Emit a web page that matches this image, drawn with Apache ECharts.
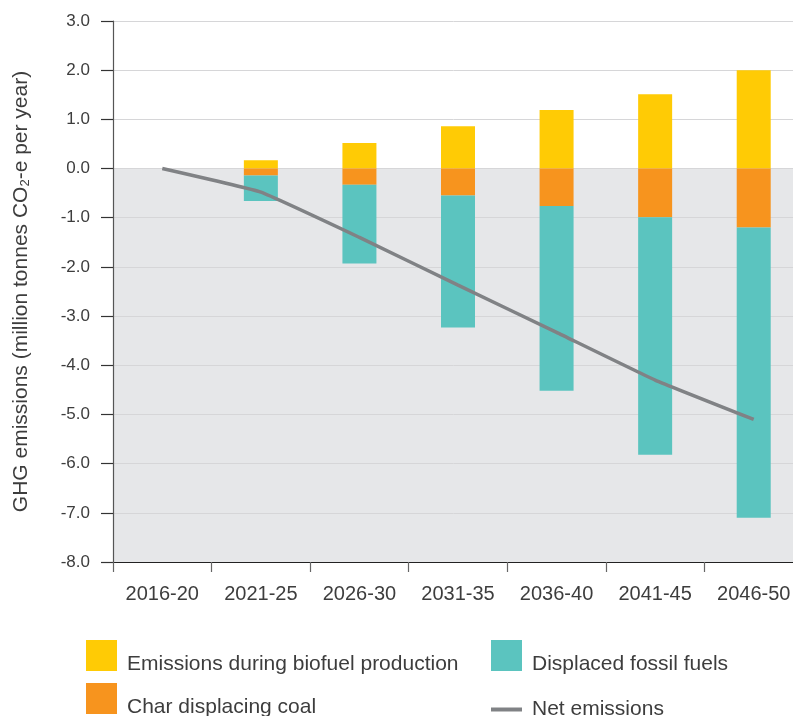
<!DOCTYPE html>
<html><head><meta charset="utf-8">
<script src="https://cdn.jsdelivr.net/npm/echarts@6/dist/echarts.min.js"></script>
<style>html,body{margin:0;padding:0;background:#fff}#c{width:793px;height:716px}</style>
</head><body><div id="c"></div>
<script>
const categories = ['2016-20','2021-25','2026-30','2031-35','2036-40','2041-45','2046-50'];
const biofuelEmissions = [0, 0.17, 0.52, 0.86, 1.19, 1.51, 2.0];
const charDisplacingCoal = [0, -0.14, -0.33, -0.55, -0.76, -0.99, -1.2];
const displacedFossilFuels = [0, -0.52, -1.6, -2.68, -3.76, -4.83, -5.9];
const netEmissions = [0, -0.48, -1.4, -2.37, -3.33, -4.3, -5.1];
const yTicks = {min: -8, max: 3, interval: 1};

const FONT = 'Liberation Sans';
const TXT = '#3d3d3d';
const bandColors = [];
for (let v = yTicks.min; v < yTicks.max; v += yTicks.interval) bandColors.push(v < 0 ? '#e6e7e9' : '#ffffff');

const legendText = {color: TXT, fontSize: 21, fontFamily: FONT, padding: [0, 0, 0, 5]};
// square swatch in the top 31px of a 48px-tall icon box, so the label sits lower as in the original
const squareIcon = 'path://M0,0L31,0L31,31L0,31Z M0,48L0,48';
function mkLegend(name, left, top, opts) {
  return Object.assign({left: left, top: top, orient: 'vertical', padding: 0,
    itemWidth: 31, itemHeight: 48, icon: squareIcon, data: [name], textStyle: legendText, selectedMode: false}, opts || {});
}

const chart = echarts.init(document.getElementById('c'));
chart.setOption({
  animation: false,
  textStyle: {fontFamily: FONT},
  grid: {left: 113, top: 21, width: 690, bottom: 154, containLabel: false, outerBoundsMode: 'none'},
  xAxis: {
    type: 'category', data: categories, boundaryGap: true,
    axisLine: {onZero: false, lineStyle: {color: '#222', width: 1.2}},
    axisTick: {show: true, length: 10, lineStyle: {color: '#666', width: 1.2}},
    axisLabel: {color: TXT, fontSize: 20, margin: 22, fontFamily: FONT}
  },
  yAxis: {
    type: 'value', min: yTicks.min, max: yTicks.max, interval: yTicks.interval,
    name: 'GHG emissions (million tonnes CO{sub|2}-e per year)',
    nameLocation: 'middle', nameGap: 81, nameRotate: 90,
    nameTextStyle: {color: TXT, fontSize: 21, fontFamily: FONT,
      rich: {sub: {fontSize: 13, color: TXT, fontFamily: FONT, verticalAlign: 'bottom', padding: [9,0,0,0]}}},
    axisLine: {show: true, lineStyle: {color: '#555', width: 1.2}},
    axisTick: {show: true, length: 12, lineStyle: {color: '#333', width: 1.2}},
    axisLabel: {color: TXT, fontSize: 17, margin: 23, fontFamily: FONT, formatter: v => v.toFixed(1)},
    splitLine: {show: true, lineStyle: {color: '#d6d6d8', width: 1}},
    splitArea: {show: true, areaStyle: {color: bandColors}}
  },
  legend: [
    mkLegend('Emissions during biofuel production', 86, 640),
    mkLegend('Char displacing coal', 86, 683),
    mkLegend('Displaced fossil fuels', 491, 640),
    mkLegend('Net emissions', 491, 699, {itemHeight: 4, icon: 'rect'})
  ],
  series: [
    {name: 'Emissions during biofuel production', type: 'bar', stack: 's', barWidth: 34,
     data: biofuelEmissions, itemStyle: {color: '#ffcb05'}},
    {name: 'Char displacing coal', type: 'bar', stack: 's', barWidth: 34,
     data: charDisplacingCoal, itemStyle: {color: '#f7941e'}},
    {name: 'Displaced fossil fuels', type: 'bar', stack: 's', barWidth: 34,
     data: displacedFossilFuels, itemStyle: {color: '#5bc4bf'}},
    {name: 'Net emissions', type: 'line', data: netEmissions, symbol: 'none', showSymbol: false,
     smooth: 0.1, z: 5, lineStyle: {color: '#808285', width: 3.5}, itemStyle: {color: '#808285'}}
  ]
});
</script></body></html>
